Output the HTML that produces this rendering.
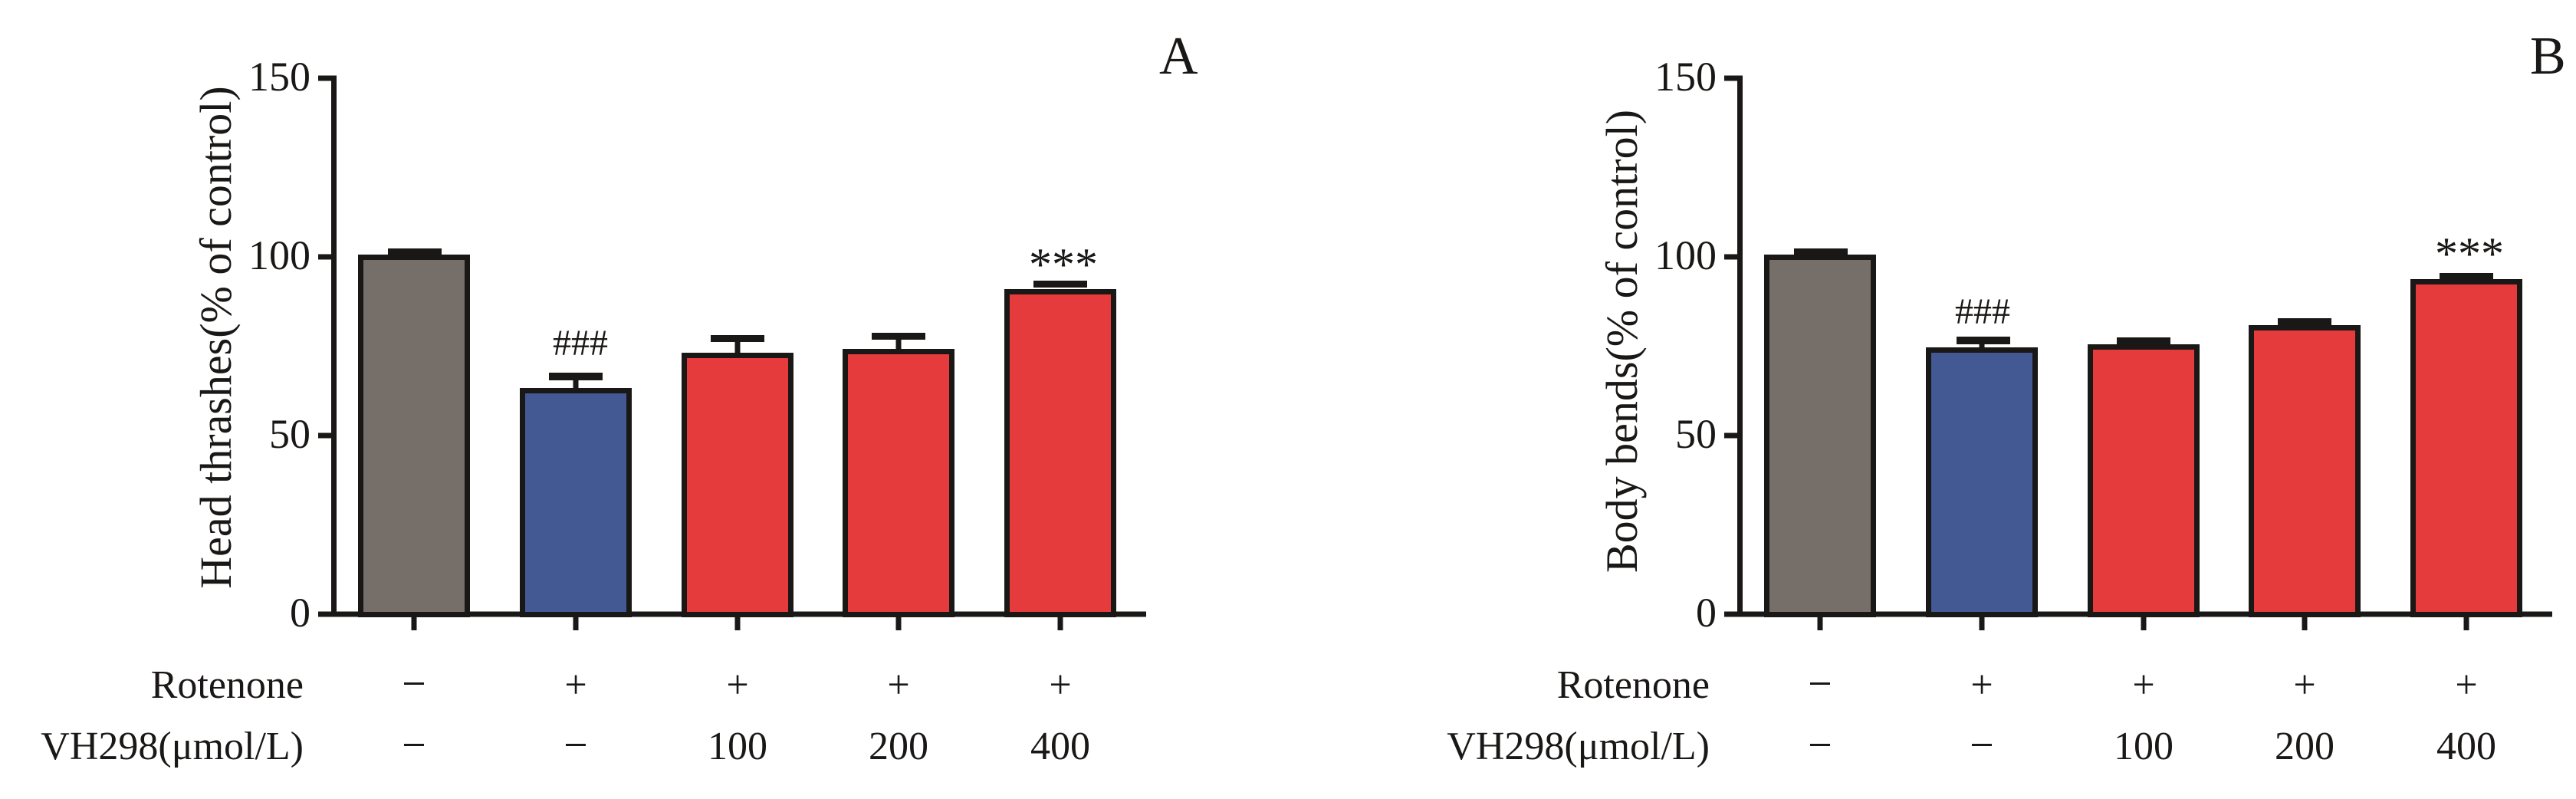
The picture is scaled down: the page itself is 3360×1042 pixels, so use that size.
<!DOCTYPE html>
<html><head><meta charset="utf-8"><style>html,body{margin:0;padding:0;background:#fff}svg{display:block}</style></head>
<body>
<svg width="3360" height="1042" viewBox="0 0 3360 1042" xmlns="http://www.w3.org/2000/svg" font-family="'Liberation Serif', serif" fill="#1a1816">
<!-- Panel A -->
<g id="A">
  <rect x="432" y="98.5" width="7" height="706" fill="#1a1816"/>
  <rect x="432" y="797.5" width="1063" height="7" fill="#1a1816"/>
  <rect x="415" y="98.5" width="20" height="7"/>
  <rect x="415" y="331.5" width="20" height="7"/>
  <rect x="415" y="564.5" width="20" height="7"/>
  <rect x="415" y="797.5" width="20" height="7"/>
  <g font-size="54" text-anchor="end">
    <text x="405" y="118">150</text><text x="405" y="351">100</text><text x="405" y="584">50</text><text x="405" y="817">0</text>
  </g>
  <text transform="translate(301,440) rotate(-90)" font-size="58" text-anchor="middle">Head thrashes(% of control)</text>
  <text x="1512" y="96" font-size="70">A</text>
  <g stroke="#1a1816" stroke-width="7">
    <rect x="470.5" y="335.5" width="139" height="466" fill="#756e69"/>
    <rect x="681.5" y="509.5" width="139" height="292" fill="#435994"/>
    <rect x="892.5" y="463.5" width="139" height="338" fill="#e63b3d"/>
    <rect x="1102.5" y="458.5" width="139" height="343" fill="#e63b3d"/>
    <rect x="1313.5" y="380.5" width="139" height="421" fill="#e63b3d"/>
  </g>
  <rect x="506" y="324" width="70" height="9"/>
  <rect x="716" y="486" width="70" height="10"/><rect x="747.5" y="494" width="7" height="14"/>
  <rect x="927" y="437" width="70" height="9"/><rect x="958.5" y="443" width="7" height="20"/>
  <rect x="1137" y="434" width="70" height="9"/><rect x="1168.5" y="440" width="7" height="18"/>
  <rect x="1348" y="366" width="70" height="9"/>
  <text x="757" y="463" font-size="48" text-anchor="middle">###</text>
  <text x="1387" y="365" font-size="60" text-anchor="middle">***</text>
  <rect x="536.5" y="804" width="7" height="18"/><rect x="747.5" y="804" width="7" height="18"/><rect x="958.5" y="804" width="7" height="18"/><rect x="1168.5" y="804" width="7" height="18"/><rect x="1379.5" y="804" width="7" height="18"/>
  <g font-size="52">
    <text x="396" y="910" text-anchor="end">Rotenone</text>
    <text x="396" y="990" text-anchor="end">VH298(μmol/L)</text>
  </g>
  <g font-size="52" text-anchor="middle">
    <rect x="527" y="890" width="26" height="3"/>
    <text x="751" y="910">+</text><text x="962" y="910">+</text><text x="1172" y="910">+</text><text x="1383" y="910">+</text>
    <rect x="527" y="970" width="26" height="3"/><rect x="738" y="970" width="26" height="3"/>
    <text x="962" y="990">100</text><text x="1172" y="990">200</text><text x="1383" y="990">400</text>
  </g>
</g>
<!-- Panel B -->
<g transform="translate(1834,0)">
  <rect x="432" y="98.5" width="7" height="706"/>
  <rect x="432" y="797.5" width="1063" height="7"/>
  <rect x="415" y="98.5" width="20" height="7"/>
  <rect x="415" y="331.5" width="20" height="7"/>
  <rect x="415" y="564.5" width="20" height="7"/>
  <rect x="415" y="797.5" width="20" height="7"/>
  <g font-size="54" text-anchor="end">
    <text x="405" y="118">150</text><text x="405" y="351">100</text><text x="405" y="584">50</text><text x="405" y="817">0</text>
  </g>
  <text transform="translate(301,445) rotate(-90)" font-size="58" text-anchor="middle">Body bends(% of control)</text>
  <g stroke="#1a1816" stroke-width="7">
    <rect x="470.5" y="335.5" width="139" height="466" fill="#756e69"/>
    <rect x="681.5" y="456.5" width="139" height="345" fill="#435994"/>
    <rect x="892.5" y="452.5" width="139" height="349" fill="#e63b3d"/>
    <rect x="1102.5" y="427.5" width="139" height="374" fill="#e63b3d"/>
    <rect x="1313.5" y="367.5" width="139" height="434" fill="#e63b3d"/>
  </g>
  <rect x="506" y="324" width="70" height="9"/>
  <rect x="718" y="439" width="70" height="10"/><rect x="747.5" y="447" width="7" height="8"/>
  <rect x="927" y="440" width="70" height="9"/>
  <rect x="1137" y="415" width="70" height="9"/>
  <rect x="1348" y="356" width="70" height="9"/>
  <text x="752" y="422" font-size="48" text-anchor="middle">###</text>
  <text x="1387" y="351" font-size="60" text-anchor="middle">***</text>
  <rect x="536.5" y="804" width="7" height="18"/><rect x="747.5" y="804" width="7" height="18"/><rect x="958.5" y="804" width="7" height="18"/><rect x="1168.5" y="804" width="7" height="18"/><rect x="1379.5" y="804" width="7" height="18"/>
  <g font-size="52">
    <text x="396" y="910" text-anchor="end">Rotenone</text>
    <text x="396" y="990" text-anchor="end">VH298(μmol/L)</text>
  </g>
  <g font-size="52" text-anchor="middle">
    <rect x="527" y="890" width="26" height="3"/>
    <text x="751" y="910">+</text><text x="962" y="910">+</text><text x="1172" y="910">+</text><text x="1383" y="910">+</text>
    <rect x="527" y="970" width="26" height="3"/><rect x="738" y="970" width="26" height="3"/>
    <text x="962" y="990">100</text><text x="1172" y="990">200</text><text x="1383" y="990">400</text>
  </g>
</g>
<text x="3300" y="96" font-size="70">B</text>
</svg>
</body></html>
